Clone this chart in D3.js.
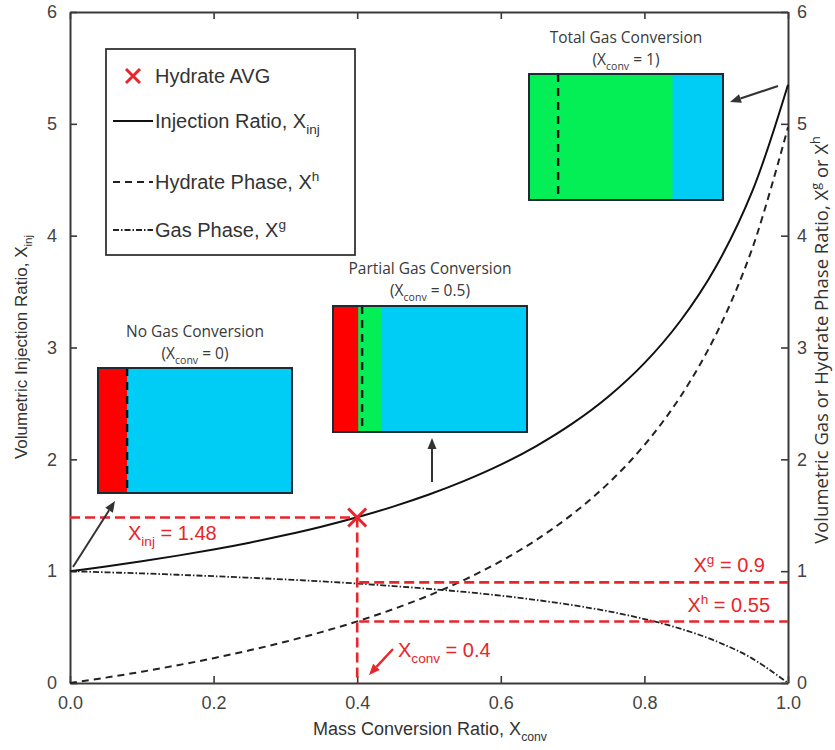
<!DOCTYPE html>
<html><head><meta charset="utf-8">
<script src="https://cdn.jsdelivr.net/npm/d3@7"></script>
<style>body{margin:0;background:#fff} svg{display:block}</style>
</head><body><svg id="c" width="835" height="750"></svg>
<script>
// ---- data ----
const convRatio     = [0,0.05,0.1,0.15,0.2,0.25,0.3,0.35,0.4,0.45,0.5,0.55,0.6,0.65,0.7,0.75,0.8,0.85,0.9,0.95,1.0];
const injRatio      = [1.000,1.042,1.088,1.139,1.194,1.255,1.323,1.398,1.482,1.577,1.685,1.809,1.952,2.121,2.321,2.562,2.860,3.237,3.727,4.393,5.350];
const hydratePhase  = [0.000,0.048,0.101,0.159,0.222,0.292,0.369,0.455,0.551,0.660,0.783,0.925,1.089,1.282,1.511,1.787,2.128,2.559,3.120,3.881,4.970];
const gasPhase      = [1.000,0.990,0.980,0.968,0.955,0.941,0.926,0.909,0.889,0.867,0.842,0.814,0.781,0.742,0.696,0.641,0.572,0.486,0.373,0.220,0.000];
const xTicks        = [0,0.2,0.4,0.6,0.8,1.0];
const xTickLabels   = ["0.0","0.2","0.4","0.6","0.8","1.0"];
const yTicks        = [0,1,2,3,4,5,6];
const avgConv = 0.4, avgInj = 1.48, avgGas = 0.9, avgHyd = 0.55;
// inset boxes: fractions of width [red end, dashed pos, green end]
const insetTitles   = ["No Gas Conversion","Partial Gas Conversion","Total Gas Conversion"];
const insetConv     = ["0","0.5","1"];
const insetRedEnd   = [0.15,0.13,0.0];
const insetDash     = [0.15,0.15,0.15];
const insetGreenEnd = [0.15,0.25,0.74];

// ---- layout ----
const svg = d3.select("#c");
const x = d3.scaleLinear().domain([0,1]).range([70,788]);
const y = d3.scaleLinear().domain([0,6]).range([683,12]);
const AX = "#3a3a3a", RED = "#e8252b", FONT = "'Liberation Sans', Arial, sans-serif", FONT2 = "'Open Sans', sans-serif";

function richText(g, parts, fs){
  let shift = 0;
  parts.forEach(p=>{
    const ts = g.append("tspan").text(p.t);
    let target = 0, size = fs;
    if(p.sub){ target = fs*0.32; size = fs*0.68; }
    if(p.sup){ target = -fs*0.42; size = fs*0.68; }
    ts.attr("font-size", size).attr("dy", target - shift);
    shift = target;
  });
}

// axes
const gB = svg.append("g").attr("transform","translate(0,683)")
  .call(d3.axisBottom(x).tickValues(xTicks).tickFormat((d,i)=>xTickLabels[i]).tickSize(-7).tickSizeOuter(0).tickPadding(13));
const gT = svg.append("g").attr("transform","translate(0,12)")
  .call(d3.axisTop(x).tickValues(xTicks).tickFormat("").tickSize(-7).tickSizeOuter(0));
const gL = svg.append("g").attr("transform","translate(70,0)")
  .call(d3.axisLeft(y).tickValues(yTicks).tickFormat(d3.format("d")).tickSize(-7).tickSizeOuter(0).tickPadding(13));
const gR = svg.append("g").attr("transform","translate(788,0)")
  .call(d3.axisRight(y).tickValues(yTicks).tickFormat(d3.format("d")).tickSize(-7).tickSizeOuter(0).tickPadding(9));
[gB,gT,gL,gR].forEach(g=>{
  g.selectAll(".domain").attr("stroke",AX).attr("stroke-width",2);
  g.selectAll(".tick line").attr("stroke",AX).attr("stroke-width",1.6);
  g.selectAll("text").attr("font-family",FONT).attr("font-size",18).attr("fill","#444");
});

// axis titles
const xl = svg.append("text").attr("x",430).attr("y",735).attr("text-anchor","middle")
  .attr("font-family",FONT).attr("font-size",18).attr("fill","#333");
richText(xl,[{t:"Mass Conversion Ratio, X"},{t:"conv",sub:true}],18);
const yl = svg.append("text").attr("transform","translate(27,347) rotate(-90)").attr("text-anchor","middle")
  .attr("font-family",FONT).attr("font-size",17).attr("fill","#333");
richText(yl,[{t:"Volumetric Injection Ratio, X"},{t:"inj",sub:true}],17);
const yr = svg.append("text").attr("transform","translate(828,340) rotate(-90)").attr("text-anchor","middle")
  .attr("font-family",FONT2).attr("font-size",18.5).attr("fill","#333");
richText(yr,[{t:"Volumetric Gas or Hydrate Phase Ratio, X"},{t:"g",sup:true},{t:" or X"},{t:"h",sup:true}],18.5);

// curves
const line = vals => d3.line().x((d,i)=>x(convRatio[i])).y(d=>y(d)).curve(d3.curveCatmullRom)(vals);
svg.append("path").attr("d",line(injRatio)).attr("fill","none").attr("stroke","#111").attr("stroke-width",2);
svg.append("path").attr("d",line(hydratePhase)).attr("fill","none").attr("stroke","#222").attr("stroke-width",2).attr("stroke-dasharray","7,5");
svg.append("path").attr("d",line(gasPhase)).attr("fill","none").attr("stroke","#222").attr("stroke-width",1.8).attr("stroke-dasharray","6,2,1.5,2");

// red annotation lines
const rl = (x1,y1,x2,y2)=>svg.append("line").attr("x1",x1).attr("y1",y1).attr("x2",x2).attr("y2",y2)
  .attr("stroke",RED).attr("stroke-width",2.6).attr("stroke-dasharray","10,5");
rl(x(0),y(avgInj),x(avgConv),y(avgInj));
rl(x(avgConv),y(avgInj),x(avgConv),y(0));
rl(x(avgConv)+2,y(avgGas),x(1),y(avgGas));
rl(x(avgConv)+2,y(avgHyd),x(1),y(avgHyd));

function xMark(cx,cy,s,w){
  svg.append("path").attr("d",`M${cx-s},${cy-s}L${cx+s},${cy+s}M${cx-s},${cy+s}L${cx+s},${cy-s}`)
    .attr("stroke",RED).attr("stroke-width",w).attr("fill","none");
}
xMark(x(avgConv),y(avgInj),9,3);

// red labels
const rt = (tx,ty,anchor,parts)=>{const t=svg.append("text").attr("x",tx).attr("y",ty).attr("text-anchor",anchor)
  .attr("font-family",FONT).attr("font-size",20).attr("fill",RED); richText(t,parts,20);};
rt(128,540,"start",[{t:"X"},{t:"inj",sub:true},{t:" = "+avgInj}]);
rt(765,572,"end",[{t:"X"},{t:"g",sup:true},{t:" = "+avgGas}]);
rt(770,612,"end",[{t:"X"},{t:"h",sup:true},{t:" = "+avgHyd}]);
rt(398,657,"start",[{t:"X"},{t:"conv",sub:true},{t:" = "+avgConv}]);

// arrows
function arrow(x1,y1,x2,y2,color,w){
  const a = Math.atan2(y2-y1,x2-x1), L=11, H=4.5;
  const bx = x2-L*Math.cos(a), by = y2-L*Math.sin(a);
  svg.append("line").attr("x1",x1).attr("y1",y1).attr("x2",bx).attr("y2",by).attr("stroke",color).attr("stroke-width",w);
  const p = [[x2,y2],[bx+H*Math.sin(a),by-H*Math.cos(a)],[bx-H*Math.sin(a),by+H*Math.cos(a)]];
  svg.append("path").attr("d","M"+p.join("L")+"Z").attr("fill",color);
}
arrow(73,567,115,501,"#333",2);
arrow(432,482,432,438,"#333",2);
arrow(778,86,730,102,"#333",2);
arrow(393,649,369,675,RED,2.4);

// insets
const boxes = [{x:98,y:368,w:194,h:125,tx:195,ty:337},{x:333,y:306,w:194,h:126,tx:430,ty:274},{x:529,y:74,w:194,h:126,tx:626,ty:43}];
const CYAN="#00cdf6", GREEN="#04ef55";
boxes.forEach((b,i)=>{
  const g = svg.append("g");
  g.append("rect").attr("x",b.x).attr("y",b.y).attr("width",b.w).attr("height",b.h).attr("fill",CYAN);
  if(insetGreenEnd[i]>0) g.append("rect").attr("x",b.x).attr("y",b.y).attr("width",b.w*insetGreenEnd[i]).attr("height",b.h).attr("fill",GREEN);
  if(insetRedEnd[i]>0) g.append("rect").attr("x",b.x).attr("y",b.y).attr("width",b.w*insetRedEnd[i]).attr("height",b.h).attr("fill","#ff0000");
  g.append("line").attr("x1",b.x+b.w*insetDash[i]).attr("x2",b.x+b.w*insetDash[i]).attr("y1",b.y).attr("y2",b.y+b.h)
    .attr("stroke","#111").attr("stroke-width",2.4).attr("stroke-dasharray","8,6");
  g.append("rect").attr("x",b.x).attr("y",b.y).attr("width",b.w).attr("height",b.h).attr("fill","none").attr("stroke","#1d2b36").attr("stroke-width",2);
  g.append("text").attr("x",b.tx).attr("y",b.ty).attr("text-anchor","middle").attr("font-family",FONT2)
    .attr("font-size",15.5).attr("fill","#3a3a3a").text(insetTitles[i]);
  const t = g.append("text").attr("x",b.tx).attr("y",b.ty+22).attr("text-anchor","middle").attr("font-family",FONT2)
    .attr("font-size",15.5).attr("fill","#3a3a3a");
  richText(t,[{t:"(X"},{t:"conv",sub:true},{t:" = "+insetConv[i]+")"}],15.5);
});

// legend
const lg = svg.append("g");
lg.append("rect").attr("x",106).attr("y",49).attr("width",249).attr("height",206).attr("fill","#fff").attr("stroke","#333").attr("stroke-width",1.8);
xMark(133,76,7,3);
const lt = (ty,parts)=>{const t=lg.append("text").attr("x",155).attr("y",ty).attr("font-family",FONT).attr("font-size",20).attr("fill","#333"); richText(t,parts,20);};
lt(83,[{t:"Hydrate AVG"}]);
lg.append("line").attr("x1",113).attr("x2",153).attr("y1",121).attr("y2",121).attr("stroke","#111").attr("stroke-width",2);
lt(128,[{t:"Injection Ratio, X"},{t:"inj",sub:true}]);
lg.append("line").attr("x1",113).attr("x2",153).attr("y1",182).attr("y2",182).attr("stroke","#222").attr("stroke-width",2).attr("stroke-dasharray","7,5");
lt(189,[{t:"Hydrate Phase, X"},{t:"h",sup:true}]);
lg.append("line").attr("x1",113).attr("x2",153).attr("y1",230).attr("y2",230).attr("stroke","#222").attr("stroke-width",1.8).attr("stroke-dasharray","6,2,1.5,2");
lt(237,[{t:"Gas Phase, X"},{t:"g",sup:true}]);
</script></body></html>
